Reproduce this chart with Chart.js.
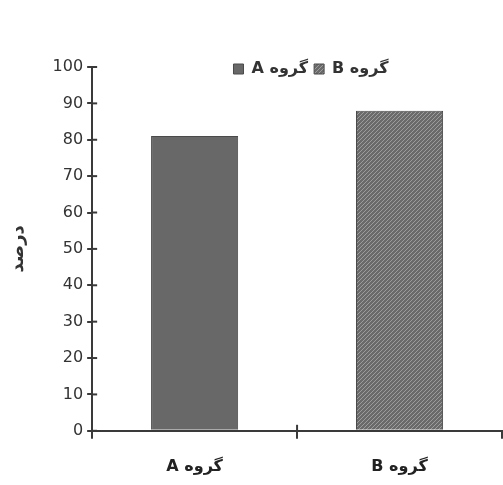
<!DOCTYPE html>
<html>
<head>
<meta charset="utf-8">
<script src="https://cdn.jsdelivr.net/npm/chart.js@4.4.1/dist/chart.umd.min.js"></script>
<style>
  html, body { margin: 0; padding: 0; background: #fff; overflow: hidden; }
  canvas { direction: rtl; display: block; }
</style>
</head>
<body>
<canvas id="chart" width="503" height="485"></canvas>
<script>
// داده‌ها
const groups = ['گروه A', 'گروه B'];
const valuesA = [81, null];
const valuesB = [null, 88];
const yTicks = [0, 10, 20, 30, 40, 50, 60, 70, 80, 90, 100];
const yTitle = 'درصد';

const axisColor = '#3a3a3a';
const fontFamily = '"DejaVu Sans", sans-serif';

// hatch pattern for group B
function hatchPattern() {
  const c = document.createElement('canvas');
  c.width = 4; c.height = 4;
  const g = c.getContext('2d');
  g.fillStyle = '#6a6a6a';
  g.fillRect(0, 0, 4, 4);
  g.fillStyle = '#9c9c9c';
  g.fillRect(3, 0, 1, 1);
  g.fillRect(2, 1, 1, 1);
  g.fillRect(1, 2, 1, 1);
  g.fillRect(0, 3, 1, 1);
  return g.createPattern(c, 'repeat');
}

// legend sits inside the plot, above the bars
const legendInPlot = {
  id: 'legendInPlot',
  afterLayout(chart) {
    const lg = chart.legend;
    const h = lg.height;
    lg.top = chart.chartArea.top - 12;
    lg.bottom = lg.top + h;
    lg.left = 119;
    lg.right = 503;
  }
};

// small tick stubs crossing the axes
const innerTicks = {
  id: 'innerTicks',
  afterDatasetsDraw(chart) {
    const ctx = chart.ctx, y = chart.scales.y, x = chart.scales.x;
    ctx.save();
    ctx.strokeStyle = axisColor;
    ctx.lineWidth = 2;
    y.ticks.forEach(t => {
      const py = y.getPixelForValue(t.value);
      ctx.beginPath();
      ctx.moveTo(y.right, py);
      ctx.lineTo(y.right + 5, py);
      ctx.stroke();
    });
    const mid = (x.getPixelForValue(0) + x.getPixelForValue(1)) / 2;
    ctx.beginPath();
    ctx.moveTo(mid, x.top);
    ctx.lineTo(mid, x.top - 6);
    ctx.stroke();
    ctx.restore();
  }
};

const ctx = document.getElementById('chart').getContext('2d');
new Chart(ctx, {
  type: 'bar',
  data: {
    labels: groups,
    datasets: [{
      label: groups[0],
      data: valuesA,
      backgroundColor: '#686868',
      borderColor: '#4a4a4a',
      borderWidth: 1
    }, {
      label: groups[1],
      data: valuesB,
      backgroundColor: hatchPattern(),
      borderColor: '#4a4a4a',
      borderWidth: 1
    }]
  },
  options: {
    responsive: false,
    animation: false,
    devicePixelRatio: 1,
    layout: { padding: { top: 35, right: 1, bottom: -9, left: 0 } },
    datasets: {
      bar: { skipNull: true, categoryPercentage: 1, barPercentage: 0.425 }
    },
    scales: {
      x: {
        grid: { drawOnChartArea: false, offset: true, tickLength: 8, color: axisColor, lineWidth: 2 },
        border: { color: axisColor, width: 2 },
        ticks: { color: '#222', padding: 18, font: { family: fontFamily, size: 16, weight: 'bold' } }
      },
      y: {
        min: 0,
        max: 100,
        afterBuildTicks: axis => { axis.ticks = yTicks.map(v => ({ value: v })); },
        grid: { drawOnChartArea: false, tickLength: 5, color: axisColor, lineWidth: 2 },
        border: { color: axisColor, width: 2 },
        ticks: { color: '#333', padding: 4, font: { family: fontFamily, size: 16 } },
        title: { display: true, text: yTitle, color: '#333', padding: { top: 8, bottom: 19 }, font: { family: fontFamily, size: 18, weight: 'bold' } }
      }
    },
    plugins: {
      legend: {
        position: 'top',
        labels: {
          boxWidth: 10,
          boxHeight: 10,
          padding: 6,
          color: '#333',
          font: { family: fontFamily, size: 16, weight: 'bold' }
        }
      },
      tooltip: { enabled: false }
    }
  },
  plugins: [legendInPlot, innerTicks]
});
</script>
</body>
</html>
